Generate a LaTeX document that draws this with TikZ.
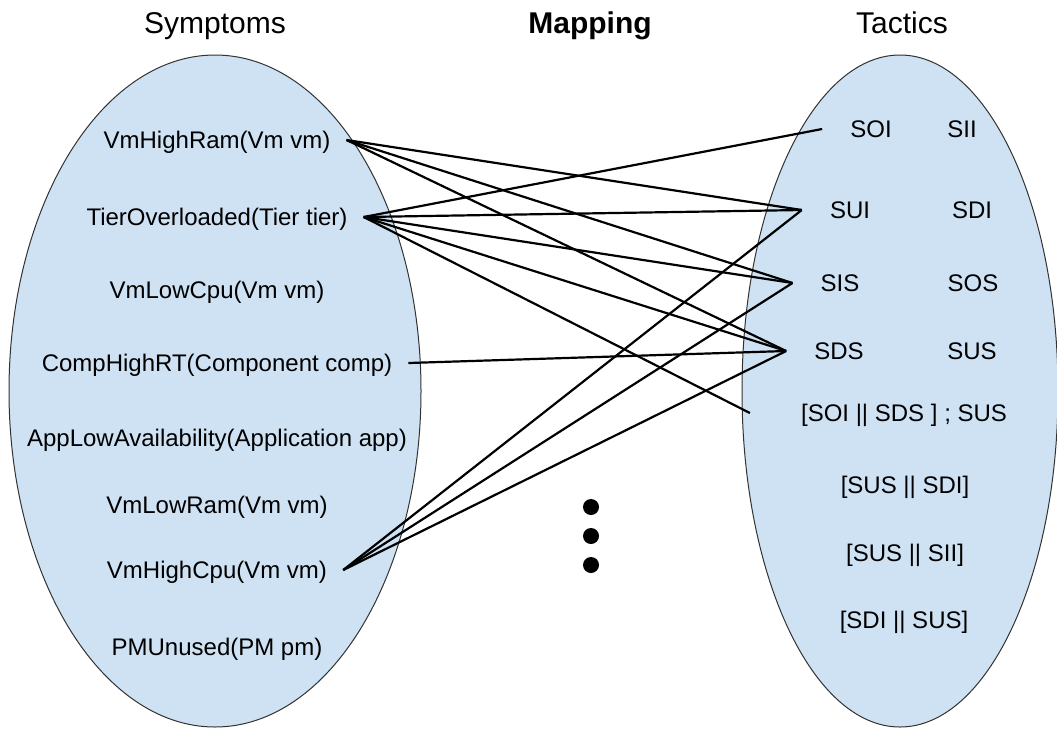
\documentclass[tikz,border=0pt]{standalone}
\usepackage{fontspec}
\setmainfont{Liberation Sans}
\usetikzlibrary{shapes.geometric,positioning}
\definecolor{MyPaleBlue}{RGB}{207,226,243}
\definecolor{MyEdgeGray}{RGB}{50,50,50}

\begin{document}
\begin{tikzpicture}[x=1pt,y=-1pt,
		set/.style={ellipse, draw=MyEdgeGray, line width=1pt, fill=MyPaleBlue, inner sep=0pt},
		heading/.style={font=\fontsize{30}{36}\selectfont, text height=21.5pt, text depth=0pt, inner sep=0pt},
		symptom/.style={font=\fontsize{24}{28}\selectfont, text height=17pt, text depth=0pt,
			inner ysep=0pt, inner xsep=16pt},
		tactic/.style={font=\fontsize{24}{28}\selectfont, text height=17pt, text depth=0pt,
			inner ysep=0pt, inner xsep=28pt},
		bullet/.style={circle, fill=black, inner sep=0pt, minimum size=16pt},
		link/.style={line width=2.2pt, black}]
		\useasboundingbox (0,0) rectangle (1057,729);
		\node[set, minimum width=412pt, minimum height=672pt] (symptoms) at (215,391) {};
		\node[set, minimum width=316pt, minimum height=672pt] (tactics) at (900,391) {};
		\node[heading] (symhead) at (215,22.5) {Symptoms};
		\node[heading] (maphead) at (590,22.5) {\textbf{Mapping}};
		\node[heading] (tachead) at (902,22.5) {Tactics};
		\node[symptom] (hram) at (217,140) {VmHighRam(Vm vm)};
		\node[symptom] (tier) at (217,217) {TierOverloaded(Tier tier)};
		\node[symptom] (lcpu) at (217,290) {VmLowCpu(Vm vm)};
		\node[symptom] (comp) at (217,363) {CompHighRT(Component comp)};
		\node[symptom] (avail) at (217,438) {AppLowAvailability(Application app)};
		\node[symptom] (lram) at (217,505) {VmLowRam(Vm vm)};
		\node[symptom] (hcpu) at (217,570) {VmHighCpu(Vm vm)};
		\node[symptom] (pm) at (217,647) {PMUnused(PM pm)};
		\node[tactic] (soi) at (871,129) {SOI};
		\node[tactic] (sii) at (962,129) {SII};
		\node[tactic] (sui) at (850,210) {SUI};
		\node[tactic] (sdi) at (972,210) {SDI};
		\node[tactic] (sis) at (840,283) {SIS};
		\node[tactic] (sos) at (973,283) {SOS};
		\node[tactic] (sds) at (839,351) {SDS};
		\node[tactic] (sus) at (972,351) {SUS};
		\node[tactic] (combo1) at (904,413) {[SOI || SDS ] ; SUS};
		\node[tactic] (combo2) at (905,485) {[SUS || SDI]};
		\node[tactic] (combo3) at (905,553) {[SUS || SII]};
		\node[tactic] (combo4) at (904,620) {[SDI || SUS]};
		\node[bullet] (dot1) at (591,507) {};
		\node[bullet] (dot2) at (591,536) {};
		\node[bullet] (dot3) at (591,565) {};
		\draw[link] (hram.east) -- (sui.west);
		\draw[link] (hram.east) -- (sis.west);
		\draw[link] (hram.east) -- (sds.west);
		\draw[link] (tier.east) -- (soi.west);
		\draw[link] (tier.east) -- (sui.west);
		\draw[link] (tier.east) -- (sis.west);
		\draw[link] (tier.east) -- (sds.west);
		\draw[link] (tier.east) -- ([xshift=-23pt]combo1.west);
		\draw[link] (comp.east) -- (sds.west);
		\draw[link] (hcpu.east) -- (sui.west);
		\draw[link] (hcpu.east) -- (sis.west);
		\draw[link] (hcpu.east) -- (sds.west);
	\end{tikzpicture}
\end{document}
